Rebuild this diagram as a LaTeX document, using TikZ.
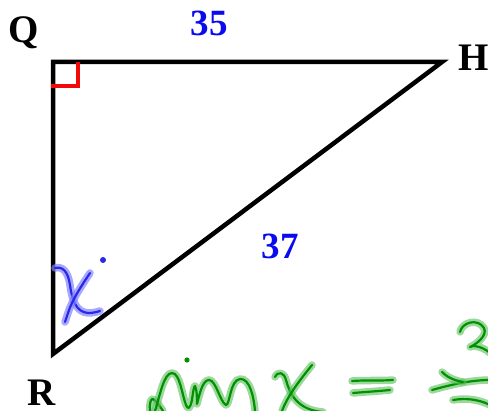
\documentclass[tikz,border=0pt]{standalone}
\usepackage{fontspec}
\setmainfont{Liberation Serif}
\definecolor{lblue}{RGB}{10,10,240}
\definecolor{mred}{RGB}{240,10,10}
\definecolor{gcore}{RGB}{0,145,0}
\definecolor{ghalo}{RGB}{90,190,90}
\definecolor{bcore}{RGB}{40,40,230}
\definecolor{bhalo}{RGB}{130,130,255}
\tikzset{
  vlabel/.style={font=\fontsize{39}{39}\selectfont\bfseries, text=black, inner sep=0pt},
  nlabel/.style={font=\fontsize{37}{37}\selectfont\bfseries, text=lblue, inner sep=0pt},
  side/.style={line width=4.5pt, black, line join=miter},
  rmark/.style={line width=3.5pt, mred},
  gstroke/.style={line width=2.2pt, gcore, line cap=round, line join=round,
    preaction={draw, line width=7.5pt, ghalo, opacity=0.6, line cap=round, line join=round}},
  bstroke/.style={line width=2.2pt, bcore, line cap=round, line join=round,
    preaction={draw, line width=7.5pt, bhalo, opacity=0.7, line cap=round, line join=round}},
}
\begin{document}
\begin{tikzpicture}[x=1pt,y=-1pt]
\useasboundingbox (0,0) rectangle (488,411);
\coordinate (Qc) at (53,62);
\coordinate (Hc) at (442,62);
\coordinate (Rc) at (53,354);
\draw[side] (Qc) -- (Hc) -- (Rc) -- cycle;
\draw[rmark] (51,86) -- (78,86) -- (78,62);
\node[vlabel] (Q) at (24,33) {Q};
\node[vlabel] (H) at (474,58) {H};
\node[vlabel] (R) at (42,393) {R};
\node[nlabel] (s35) at (209,23) {35};
\node[nlabel] (s37) at (280,246) {37};
% blue x
\draw[bstroke] (55,268) .. controls (63,266) and (68,272) .. (70,285) .. controls (72,300) and (76,312) .. (88,313) .. controls (93,313) and (97,312) .. (100,311);
\draw[bstroke] (90,273) .. controls (82,285) and (72,300) .. (68,313) -- (65,322);
\fill[bcore] (103,260) circle (3);
% green sin x = 3...
\fill[gcore] (187,360) circle (2.6);
\draw[gstroke] (150,411) .. controls (149,404) and (151,398) .. (153,399) .. controls (156,401) and (160,406) .. (163,411);
\draw[gstroke] (155,411) .. controls (160,395) and (164,373) .. (172,373) .. controls (180,373) and (182,395) .. (186,405) .. controls (188,410) and (190,409) .. (192,400) .. controls (193,392) and (194,386) .. (195,386) .. controls (197,390) and (197,398) .. (197,404) .. controls (200,392) and (203,380) .. (209,380) .. controls (216,380) and (220,402) .. (226,405) .. controls (230,405) and (230,380) .. (240,379) .. controls (250,378) and (254,398) .. (255,411);
\draw[gstroke] (275,377) .. controls (278,371) and (284,372) .. (286,380) .. controls (290,395) and (298,410) .. (323,412);
\draw[gstroke] (312,365) .. controls (300,380) and (288,395) .. (282,411);
\draw[gstroke] (352,381) .. controls (365,380) and (380,381) .. (393,380);
\draw[gstroke] (353,393) .. controls (365,392) and (380,391) .. (390,390);
\draw[gstroke] (460,332) .. controls (462,322) and (478,318) .. (484,328) .. controls (488,336) and (475,345) .. (470,347) .. controls (472,345) and (482,346) .. (490,353);
\draw[gstroke] (432,390) .. controls (450,385) and (470,380) .. (490,380);
\draw[gstroke] (442,372) .. controls (446,376) and (452,380) .. (463,382);
\draw[gstroke] (453,400) .. controls (465,398) and (478,399) .. (490,405);
\end{tikzpicture}
\end{document}
